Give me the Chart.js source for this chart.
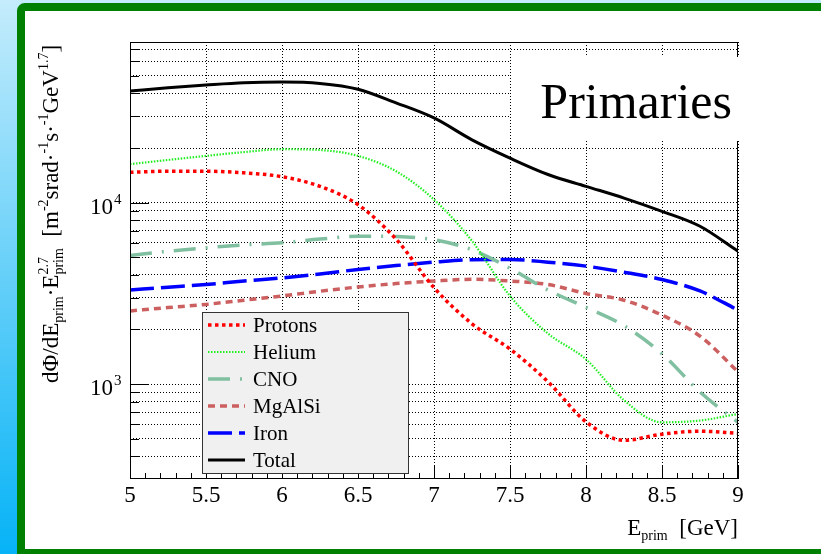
<!DOCTYPE html>
<html>
<head>
<meta charset="utf-8">
<script src="https://cdn.jsdelivr.net/npm/chart.js@4.4.0/dist/chart.umd.min.js"></script>
<style>
  html, body { margin: 0; padding: 0; }
  body { width: 821px; height: 554px; overflow: hidden; position: relative;
         background: linear-gradient(#c4ecfc, #06b3f6); }
  #frame { position: absolute; left: 17px; top: 3px; width: 900px; height: 538px;
           border: 8px solid #008000; border-radius: 8px 0 0 0; background: #fff; }
  #plot { position: absolute; left: 0; top: 0; }
</style>
</head>
<body>
<div id="frame"></div>
<canvas id="plot" width="821" height="554"></canvas>
<script>
// primary energy grid [GeV] and flux per species
const energy  = [5.0, 5.25, 5.5, 5.75, 6.0, 6.25, 6.5, 6.75, 7.0, 7.25, 7.5, 7.75, 8.0, 8.25, 8.5, 8.75, 9.0];
const protons = [14700, 14900, 14900, 14600, 13900, 12300, 9750, 6300, 3400, 2150, 1560, 1030, 620, 490, 530, 550, 535];
const helium  = [16300, 17200, 18100, 19000, 19700, 19500, 18100, 14900, 10400, 6150, 3060, 1900, 1370, 815, 616, 630, 685];
const cno     = [5120, 5400, 5640, 5850, 6010, 6300, 6530, 6500, 6250, 5500, 4350, 3300, 2650, 2100, 1470, 905, 615];
const mgalsi  = [2530, 2640, 2750, 2900, 3060, 3250, 3430, 3580, 3700, 3780, 3700, 3540, 3160, 2900, 2400, 1840, 1170];
const iron    = [3300, 3420, 3540, 3700, 3850, 4050, 4280, 4500, 4700, 4850, 4860, 4700, 4470, 4140, 3770, 3260, 2560];
const total   = [41200, 43000, 44500, 45800, 46200, 45400, 42200, 35500, 29300, 22200, 17600, 14300, 12300, 10600, 8960, 7410, 5400];

const xTicks = [5, 5.5, 6, 6.5, 7, 7.5, 8, 8.5, 9];
const xTickLabels = ['5', '5.5', '6', '6.5', '7', '7.5', '8', '8.5', '9'];
const yDecades = [1000, 10000];
const yDecadeExp = ['3', '4'];
const yMin = 300, yMax = 76800;

// log grid: 1..9 x 10^n inside the range
const yGrid = [];
[100, 1000, 10000].forEach(d => {
  for (let k = 1; k <= 9; k++) {
    const v = k * d;
    if (v > yMin && v < yMax) yGrid.push(v);
  }
});

const SERIF = "'Liberation Serif', 'Times New Roman', serif";

function pts(vals) {
  return energy.map((e, i) => ({ x: e, y: vals[i] }));
}

const datasets = [
  { label: 'Protons', data: pts(protons), borderColor: '#ff0000', borderWidth: 3.5, borderDash: [3.5, 3.5] },
  { label: 'Helium',  data: pts(helium),  borderColor: '#22ee22', borderWidth: 2.2, borderDash: [1.5, 1.5] },
  { label: 'CNO',     data: pts(cno),     borderColor: '#80c0a0', borderWidth: 3.5, borderDash: [22, 10, 2, 10] },
  { label: 'MgAlSi',  data: pts(mgalsi),  borderColor: '#cc6060', borderWidth: 3.5, borderDash: [7, 5] },
  { label: 'Iron',    data: pts(iron),    borderColor: '#0000ff', borderWidth: 3.5, borderDash: [24, 7] },
  { label: 'Total',   data: pts(total),   borderColor: '#000000', borderWidth: 3,   borderDash: [] }
].map(d => Object.assign(d, { pointRadius: 0, fill: false, cubicInterpolationMode: 'monotone' }));

// draws a run of text pieces; each piece: [text, size, shift]; shift < 0 raises it
function drawRich(ctx, pieces, x, y) {
  let cx = x;
  pieces.forEach(p => {
    if (p.stack) {
      let w = 0;
      p.stack.forEach(s => {
        ctx.font = s[1] + 'px ' + SERIF;
        ctx.fillText(s[0], cx, y + s[2]);
        w = Math.max(w, ctx.measureText(s[0]).width);
      });
      cx += w;
    } else {
      ctx.font = p[1] + 'px ' + SERIF;
      ctx.fillText(p[0], cx, y + p[2]);
      cx += ctx.measureText(p[0]).width;
    }
  });
  return cx - x;
}
function richWidth(ctx, pieces) {
  let w = 0;
  pieces.forEach(p => {
    if (p.stack) {
      w += Math.max(...p.stack.map(s => { ctx.font = s[1] + 'px ' + SERIF; return ctx.measureText(s[0]).width; }));
    } else {
      ctx.font = p[1] + 'px ' + SERIF;
      w += ctx.measureText(p[0]).width;
    }
  });
  return w;
}

const yTitle = [
  ['d\u03A6/dE', 23, 0], ['prim', 14, 5], ['\u00B7E', 23, 0],
  { stack: [['2.7', 14, -10], ['prim', 14, 5]] },
  ['  [m', 23, 0], ['-2', 14, -10], ['srad', 23, 0], ['\u00B7', 23, 0], ['-1', 14, -10],
  ['s', 23, 0], ['\u00B7', 23, 0], ['-1', 14, -10], ['GeV', 23, 0], ['1.7', 14, -10], [']', 23, 0]
];
const xTitle = [['E', 23, 0], ['prim', 14, 5], ['  [GeV]', 23, 0]];

const rootDecor = {
  id: 'rootDecor',
  afterDatasetsDraw(chart) {
    const { ctx, chartArea: a, scales: { x, y } } = chart;
    ctx.save();
    ctx.strokeStyle = '#000';
    ctx.lineWidth = 1;
    ctx.setLineDash([]);
    ctx.strokeRect(a.left + 0.5, a.top + 0.5, a.right - a.left - 1, a.bottom - a.top - 1);

    // ticks drawn inside the frame
    ctx.beginPath();
    for (let k = 50; k <= 90; k++) {
      const px = Math.round(x.getPixelForValue(k / 10)) + 0.5;
      const len = k % 5 === 0 ? 13 : 6;
      ctx.moveTo(px, a.bottom);
      ctx.lineTo(px, a.bottom - len);
    }
    yGrid.forEach(v => {
      const py = Math.round(y.getPixelForValue(v)) + 0.5;
      const len = yDecades.includes(v) ? 19 : 9;
      ctx.moveTo(a.left, py);
      ctx.lineTo(a.left + len, py);
    });
    ctx.stroke();

    // tick labels
    ctx.fillStyle = '#000';
    ctx.textBaseline = 'alphabetic';
    ctx.font = '23px ' + SERIF;
    ctx.textAlign = 'center';
    xTicks.forEach((v, i) => ctx.fillText(xTickLabels[i], x.getPixelForValue(v), a.bottom + 23));
    yDecades.forEach((v, i) => {
      const py = y.getPixelForValue(v);
      ctx.textAlign = 'right';
      ctx.font = '23px ' + SERIF;
      ctx.fillText('10', 113, py + 11);
      ctx.textAlign = 'left';
      ctx.font = '15px ' + SERIF;
      ctx.fillText(yDecadeExp[i], 114, py + 1);
    });

    // axis titles
    ctx.textAlign = 'left';
    const xw = richWidth(ctx, xTitle);
    drawRich(ctx, xTitle, a.right - xw, 535);
    ctx.save();
    ctx.translate(58, 383);
    ctx.rotate(-Math.PI / 2);
    drawRich(ctx, yTitle, 0, 0);
    ctx.restore();

    // legend
    const lx = 202.5, ly = 312.5, lw = 206, lh = 161;
    ctx.fillStyle = '#f0f0f0';
    ctx.fillRect(lx, ly, lw, lh);
    ctx.strokeStyle = '#333';
    ctx.lineWidth = 1;
    ctx.strokeRect(lx, ly, lw, lh);
    chart.data.datasets.forEach((ds, i) => {
      const ry = 325 + i * 27;
      ctx.beginPath();
      ctx.strokeStyle = ds.borderColor;
      ctx.lineWidth = ds.borderWidth;
      ctx.setLineDash(ds.borderDash);
      ctx.moveTo(208, ry);
      ctx.lineTo(245, ry);
      ctx.stroke();
      ctx.setLineDash([]);
      ctx.fillStyle = '#000';
      ctx.font = '21px ' + SERIF;
      ctx.textBaseline = 'middle';
      ctx.fillText(ds.label, 253, ry + 1);
    });

    // label box
    ctx.fillStyle = '#fff';
    ctx.fillRect(511, 57, 240, 84);
    ctx.fillStyle = '#000';
    ctx.textBaseline = 'alphabetic';
    ctx.textAlign = 'right';
    ctx.font = '50px ' + SERIF;
    ctx.fillText('Primaries', 732, 118);
    ctx.restore();
  }
};

new Chart(document.getElementById('plot'), {
  type: 'line',
  data: { datasets },
  options: {
    responsive: false,
    animation: false,
    layout: { padding: { left: 130, right: 83, top: 42, bottom: 75 } },
    plugins: { legend: { display: false }, tooltip: { enabled: false } },
    scales: {
      x: {
        type: 'linear', min: 5, max: 9,
        ticks: { display: false, stepSize: 0.5 },
        grid: { color: '#000', lineWidth: 1, drawTicks: false },
        border: { display: false, dash: [1, 2] },
        afterFit: s => { s.height = 0; }
      },
      y: {
        type: 'logarithmic', min: yMin, max: yMax,
        ticks: { display: false },
        afterBuildTicks: s => { s.ticks = yGrid.map(v => ({ value: v })); },
        grid: { color: '#000', lineWidth: 1, drawTicks: false },
        border: { display: false, dash: [1, 2] },
        afterFit: s => { s.width = 0; }
      }
    }
  },
  plugins: [rootDecor]
});
</script>
</body>
</html>
